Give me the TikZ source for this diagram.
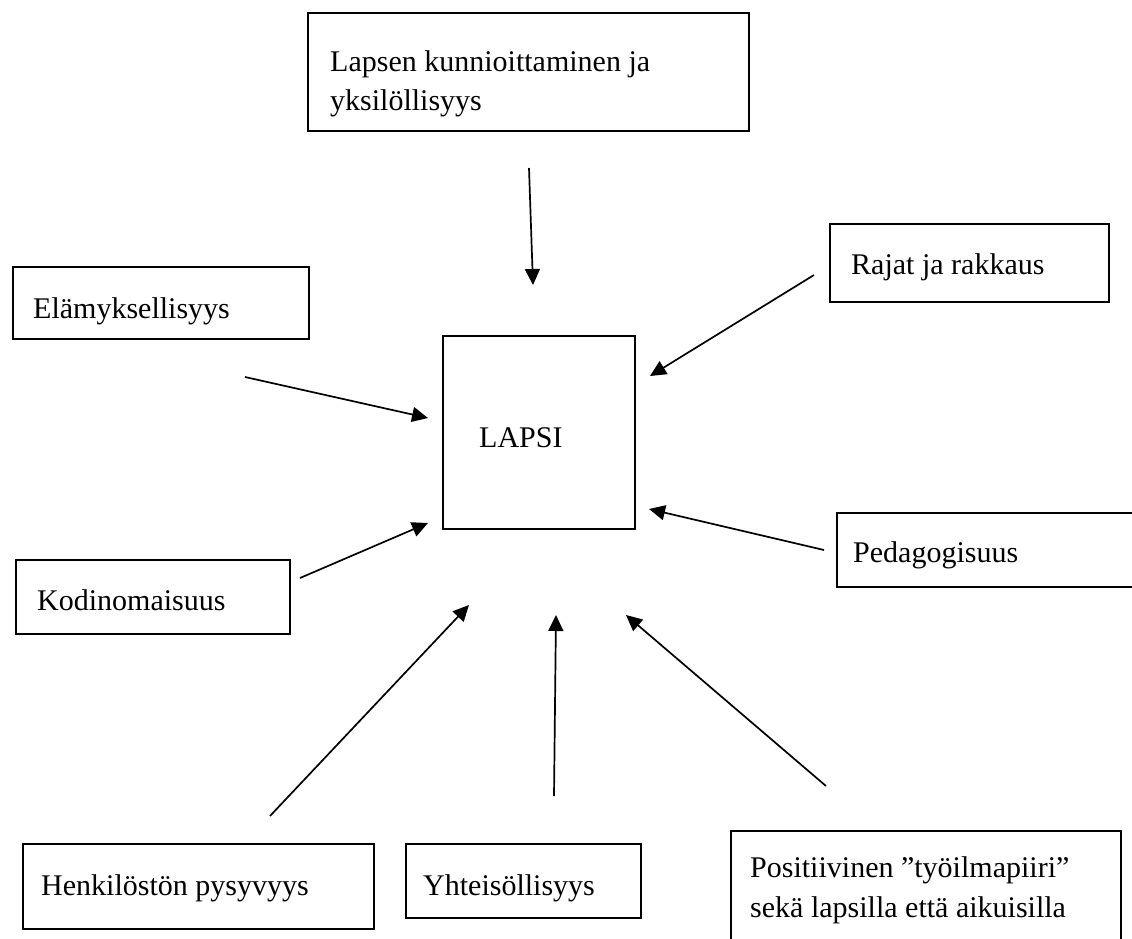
\documentclass[tikz,border=0pt]{standalone}
\usepackage{fontspec}
\setmainfont{Liberation Serif}
\usetikzlibrary{arrows.meta}
\begin{document}
\begin{tikzpicture}[x=1pt,y=-1pt,
  box/.style={draw=black, line width=2pt, fill=none, inner sep=0pt, anchor=north west},
  txt/.style={anchor=base west, inner sep=0pt, font=\fontsize{30}{40}\selectfont},
  arr/.style={line width=1.7pt, -{Triangle[length=16pt,width=15pt]}}
]
\useasboundingbox[fill=white] (0,0) rectangle (1132,938);
\begin{scope}
\clip (0,0) rectangle (1132,938);
% boxes
\node[box, minimum width=441pt, minimum height=118pt] (topB) at (307,12) {};
\node[box, minimum width=279pt, minimum height=78pt] (rajB) at (829,223) {};
\node[box, minimum width=296pt, minimum height=72pt] (elaB) at (12,266) {};
\node[box, minimum width=192pt, minimum height=193pt] (lapB) at (442,335) {};
\node[box, minimum width=300pt, minimum height=74pt] (pedB) at (836,512) {};
\node[box, minimum width=274pt, minimum height=74pt] (kodB) at (15,559) {};
\node[box, minimum width=351pt, minimum height=85pt] (henB) at (22,843) {};
\node[box, minimum width=235pt, minimum height=74pt] (yhtB) at (405,843) {};
\node[box, minimum width=390pt, minimum height=140pt] (posB) at (730,830) {};
\end{scope}
% texts
\node[txt] (top1) at (330,71) {Lapsen kunnioittaminen ja};
\node[txt] (top2) at (330,110) {yksilöllisyys};
\node[txt] (raj) at (851,274) {Rajat ja rakkaus};
\node[txt] (ela) at (33,318) {Elämyksellisyys};
\node[txt] (lap) at (479,447) {LAPSI};
\node[txt] (ped) at (853,562) {Pedagogisuus};
\node[txt] (kod) at (37,610) {Kodinomaisuus};
\node[txt] (hen) at (41,895) {Henkilöstön pysyvyys};
\node[txt] (yht) at (423,895) {Yhteisöllisyys};
\node[txt] (pos1) at (750,877) {Positiivinen ”työilmapiiri”};
\node[txt] (pos2) at (750,917) {sekä lapsilla että aikuisilla};
% arrow end points
\coordinate (a1s) at (529,168); \coordinate (a1e) at (533,285);
\coordinate (a2s) at (814,275); \coordinate (a2e) at (650,376);
\coordinate (a3s) at (245,377); \coordinate (a3e) at (428,418);
\coordinate (a4s) at (300,578); \coordinate (a4e) at (428,523);
\coordinate (a5s) at (824,550); \coordinate (a5e) at (649,509);
\coordinate (a6s) at (270,816); \coordinate (a6e) at (469,605);
\coordinate (a7s) at (554,796); \coordinate (a7e) at (556,615);
\coordinate (a8s) at (826,786); \coordinate (a8e) at (626,615);
\draw[arr] (a1s) -- (a1e);
\draw[arr] (a2s) -- (a2e);
\draw[arr] (a3s) -- (a3e);
\draw[arr] (a4s) -- (a4e);
\draw[arr] (a5s) -- (a5e);
\draw[arr] (a6s) -- (a6e);
\draw[arr] (a7s) -- (a7e);
\draw[arr] (a8s) -- (a8e);
\end{tikzpicture}
\end{document}
